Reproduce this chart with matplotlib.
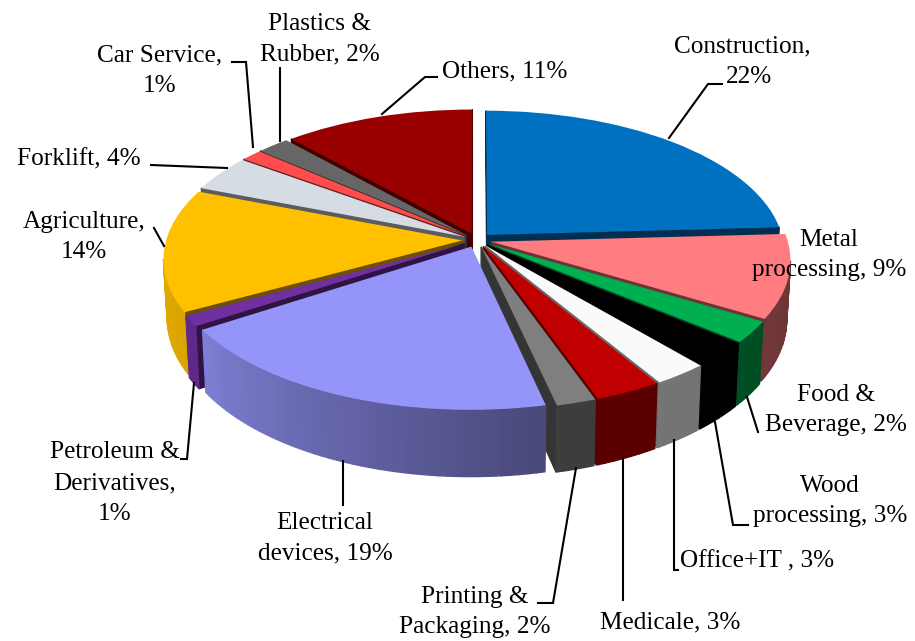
"""Exploded 3D pie of industry shares, drawn with a perspective transform."""

import matplotlib
import matplotlib.pyplot as plt
from matplotlib.transforms import Transform
import numpy as np

matplotlib.use('Agg')

plt.rcParams['font.family'] = ['Liberation Serif', 'DejaVu Serif']

categories = ['Construction', 'Metal processing', 'Food & Beverage', 'Wood processing',
              'Office+IT', 'Medicale', 'Printing & Packaging', 'Electrical devices',
              'Petroleum & Derivatives', 'Agriculture', 'Forklift', 'Car Service',
              'Plastics & Rubber', 'Others']
values = [24.1, 9.4, 2.4, 2.8, 2.6, 3.2, 1.9, 19.4, 1.2, 13.8, 4.1, 1.3, 2.0, 11.7]
top_colors = ['#0070C0', '#FF7C80', '#00B050', '#000000', '#FAFAFA', '#C00000', '#7F7F7F',
              '#9494F9', '#7030A0', '#FFC000', '#D6DCE4', '#FF4D4D', '#666666', '#990000']

label_texts = ['Construction,', '22%', 'Metal\nprocessing, 9%', 'Food &\nBeverage, 2%',
               'Wood\nprocessing, 3%', 'Office+IT , 3%', 'Medicale, 3%',
               'Printing &\nPackaging, 2%', 'Electrical\ndevices, 19%',
               'Petroleum &\nDerivatives,\n1%', 'Agriculture,\n14%', 'Forklift, 4%',
               'Car Service,\n1%', 'Plastics &\nRubber, 2%', 'Others, 11%']
label_pos = [(742, 46), (749, 77), (829, 255), (836, 410), (830, 501), (757, 561), (670, 622),
             (475, 612), (325, 538), (115, 483), (84, 237), (79, 159),
             (160, 71), (320, 39), (505, 71)]
leaders = [
    [(669, 138), (708, 84), (722, 84)],
    [(747, 397), (758, 432)],
    [(715, 422), (733, 525), (748, 525)],
    [(674, 440), (674, 570), (678, 570)],
    [(623, 458), (623, 600)],
    [(576, 468), (553, 603), (538, 603)],
    [(343, 461), (343, 505)],
    [(194, 383), (187, 459), (181, 459)],
    [(154, 228), (164, 246)],
    [(151, 165), (227, 168)],
    [(253, 147), (246, 62), (232, 62)],
    [(280, 141), (280, 68)],
    [(382, 114), (425, 77), (437, 77)],
]

HUB_X, HUB_Y = 477, 240
RX, RY = 296, 141
TILT = 0.1255
DEPTH = 58
EYE = np.array([0, -1 / TILT])


def project(u, v, z=0.0):
    """Map pie coordinates to pixels, z runs from 0 (top face) to 1 (bottom)."""
    w = 1 + TILT * v
    x = HUB_X + RX * u / w * (1 - 0.012 * z)
    y = HUB_Y - RY * v / w + z * DEPTH / w
    return x, y


class PieProjection(Transform):
    input_dims = 2
    output_dims = 2

    def transform_non_affine(self, values):
        x, y = project(values[:, 0], values[:, 1])
        return np.column_stack([x, y])


def shade(color, factor):
    return tuple(c * factor for c in matplotlib.colors.to_rgb(color))


def wall_factor(cw_angle):
    return np.interp(cw_angle, [100, 166, 236, 270], [0.43, 0.48, 0.85, 0.9])


def draw_quad(ax, p0, p1, color, zorder):
    """Fill the side face hanging below the top edge p0-p1."""
    xs = [project(*p0)[0], project(*p1)[0], project(*p1, 1)[0], project(*p0, 1)[0]]
    ys = [project(*p0)[1], project(*p1)[1], project(*p1, 1)[1], project(*p0, 1)[1]]
    ax.fill(xs, ys, color=color, lw=1.0, zorder=zorder)


def draw_sides(ax, wedge, color, zorder):
    center = np.array(wedge.center)
    t1, t2 = np.radians(wedge.theta1), np.radians(wedge.theta2)

    # Cut faces, each kept only if it looks towards the eye
    for t, sign in [(t1, -1), (t2, 1)]:
        normal = np.array([np.cos(t + sign * np.pi / 2), np.sin(t + sign * np.pi / 2)])
        if normal @ (EYE - center) > 0:
            rim = center + [np.cos(t), np.sin(t)]
            draw_quad(ax, center, rim, shade(color, 0.42), zorder)

    # Outer wall as thin strips so the shading can change along the arc
    edges = np.linspace(t1, t2, max(int(np.degrees(t2 - t1) / 1.5), 1) + 1)
    for a, b in zip(edges[:-1], edges[1:]):
        mid = (a + b) / 2
        normal = np.array([np.cos(mid), np.sin(mid)])
        if normal @ (EYE - (center + normal)) > 0:
            cw_angle = (90 - np.degrees(mid)) % 360
            draw_quad(ax, center + [np.cos(a), np.sin(a)], center + [np.cos(b), np.sin(b)],
                      shade(color, wall_factor(cw_angle)), zorder + 0.5)


fig = plt.figure(figsize=(9.15, 6.41), dpi=100)
ax = fig.add_axes([0, 0, 1, 1])

wedges, _ = ax.pie(values, colors=top_colors, explode=[0.05] * len(values),
                   startangle=90, counterclock=False, radius=1)

# Painter's order: sides furthest from the front of the pie go first
for wedge, color in zip(wedges, top_colors):
    wedge.set_transform(PieProjection() + ax.transData)
    wedge.set_zorder(100)

mid_angles = [(90 - (w.theta1 + w.theta2) / 2) % 360 for w in wedges]
distance = [abs((a - 195 + 180) % 360 - 180) for a in mid_angles]
order = np.argsort(distance)[::-1]
for rank, i in enumerate(order):
    draw_sides(ax, wedges[i], top_colors[i], rank + 1)

for path in leaders:
    ax.plot([p[0] for p in path], [p[1] for p in path], color='black', lw=1.5, zorder=110,
            solid_joinstyle='miter')

for text, (x, y) in zip(label_texts, label_pos):
    ax.text(x, y, text, ha='center', va='center', fontsize=18.2, linespacing=1.5,
            multialignment='center', zorder=120)

ax.set_aspect('auto')
ax.set_xlim(0, 915)
ax.set_ylim(641, 0)
ax.axis('off')

fig.savefig('out.png', dpi=100)
plt.close(fig)
